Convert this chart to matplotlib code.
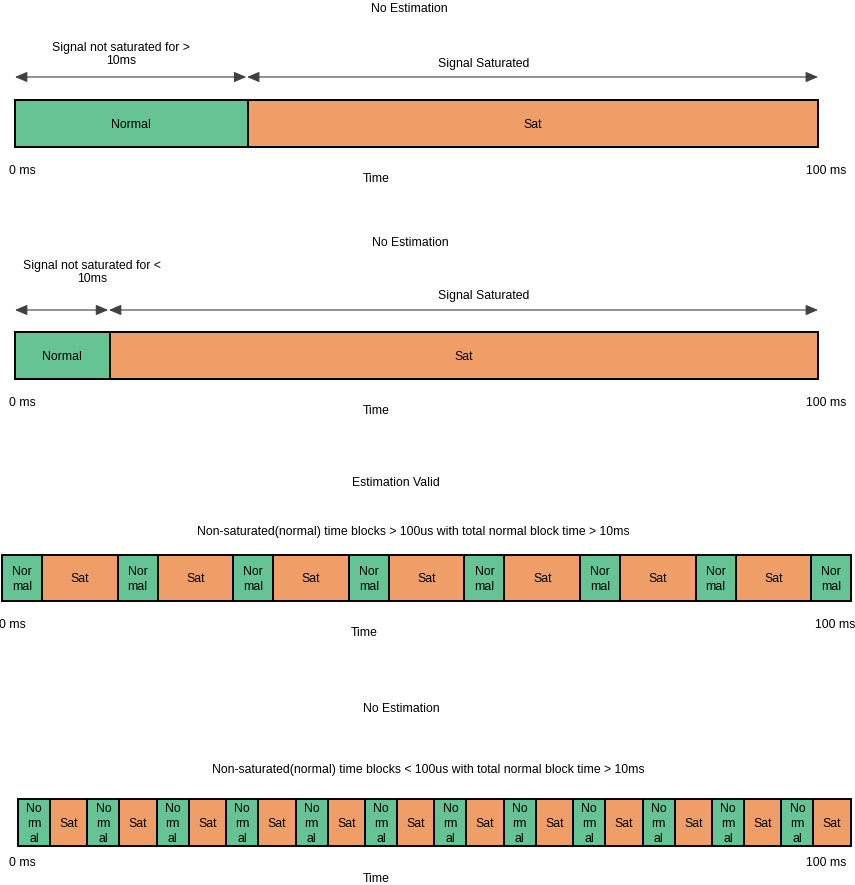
import matplotlib.pyplot as plt
import numpy as np

plt.rcParams['font.family'] = ['Liberation Sans', 'DejaVu Sans']
plt.rcParams['font.size'] = 8.8

# durations in ms, alternating Normal / Sat
p1_labels = ['Normal', 'Sat']
p1_ms = [29.0, 71.0]

p2_labels = ['Normal', 'Sat']
p2_ms = [11.8, 88.2]

p3_labels = ['Nor\nmal', 'Sat'] * 7 + ['Nor\nmal']
p3_ms = [4.7, 8.9] * 7 + [4.7]

p4_labels = ['No\nrm\nal', 'Sat'] * 12
p4_ms = [3.85, 4.48] * 12

green = '#66c494'
orange = '#ee9e66'
W, H = 855, 885

fig = plt.figure(figsize=(W / 100, H / 100), dpi=100)
bg = fig.add_axes([0, 0, 1, 1])
bg.set_xlim(0, W)
bg.set_ylim(H, 0)
bg.axis('off')


def panel_ax(x0, x1):
    ax = fig.add_axes([x0 / W, 0, (x1 - x0) / W, 1])
    ax.set_xlim(0, 100)
    ax.set_ylim(H, 0)
    ax.axis('off')
    return ax


def draw_bar(ax, ms, labels, yc, h=47):
    lefts = np.concatenate([[0], np.cumsum(ms)[:-1]])
    cols = [green if l != 'Sat' else orange for l in labels]
    ax.barh(yc, ms, left=lefts, height=h, color=cols, edgecolor='black',
            linewidth=1.4, clip_on=False)
    for l, w, lab in zip(lefts, ms, labels):
        ax.text(l + w / 2, yc + 1.5, lab, ha='center', va='center', linespacing=1.35)


def arrow(ax, a, b, y):
    ax.annotate('', xy=(b, y), xytext=(a, y), annotation_clip=False,
                arrowprops=dict(arrowstyle='<|-|>,head_length=0.75,head_width=0.32',
                                mutation_scale=10, color='#404040', lw=0.8,
                                shrinkA=0, shrinkB=0))


def txt(x, y, s, **kw):
    bg.text(x, y + 1.5, s, ha='center', va='center', linespacing=1.2, **kw)


# panel 1
ax1 = panel_ax(15, 818)
draw_bar(ax1, p1_ms, p1_labels, 123.5)
arrow(ax1, 0, p1_ms[0] - 0.2, 77)
arrow(ax1, p1_ms[0] - 0.1, 100, 77)
txt(409, 8, 'No Estimation')
txt(121, 53, 'Signal not saturated for >\n10ms')
txt(484, 62, 'Signal Saturated')
txt(22, 169, '0 ms')
txt(826, 169, '100 ms')
txt(376, 178, 'Time')

# panel 2
ax2 = panel_ax(15, 818)
draw_bar(ax2, p2_ms, p2_labels, 355.5)
arrow(ax2, 0, p2_ms[0] - 0.2, 310)
arrow(ax2, p2_ms[0] - 0.1, 100, 310)
txt(410, 241, 'No Estimation')
txt(92, 271, 'Signal not saturated for <\n10ms')
txt(484, 295, 'Signal Saturated')
txt(22, 401, '0 ms')
txt(826, 401, '100 ms')
txt(376, 410, 'Time')

# panel 3
ax3 = panel_ax(2, 852)
draw_bar(ax3, p3_ms, p3_labels, 578, h=46)
txt(396, 481, 'Estimation Valid')
txt(413, 530, 'Non-saturated(normal) time blocks > 100us with total normal block time > 10ms')
txt(12, 623, '0 ms')
txt(835, 623, '100 ms')
txt(364, 632, 'Time')

# panel 4
ax4 = panel_ax(18, 851)
draw_bar(ax4, p4_ms, p4_labels, 822.5)
txt(401, 707, 'No Estimation')
txt(428, 769, 'Non-saturated(normal) time blocks < 100us with total normal block time > 10ms')
txt(22, 862, '0 ms')
txt(826, 862, '100 ms')
txt(376, 877, 'Time')

fig.savefig('out.png', dpi=100)
